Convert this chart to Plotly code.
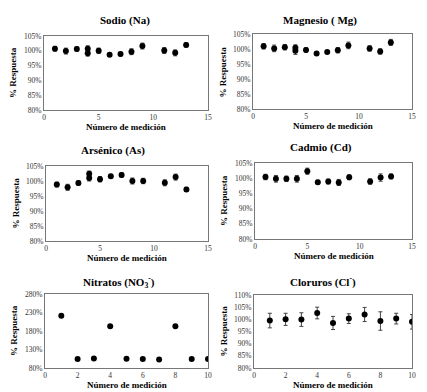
import plotly.graph_objects as go

# ---- data ----
na_x = [1, 2, 3, 4, 4, 5, 6, 7, 8, 9, 11, 12, 13]
na_y = [100.7, 99.9, 100.6, 100.7, 99.2, 100.0, 98.7, 98.9, 99.7, 101.6, 100.1, 99.3, 102.0]
na_e = [0.8, 1.0, 0.7, 1.0, 1.0, 0.9, 0.5, 0.6, 1.0, 1.0, 1.0, 1.0, 0.7]

mg_x = [1, 2, 3, 4, 4, 5, 6, 7, 8, 9, 11, 12, 13]
mg_y = [100.9, 100.2, 100.6, 100.4, 99.4, 99.7, 98.5, 99.0, 99.6, 101.2, 100.2, 99.2, 102.2]
mg_e = [0.9, 1.1, 0.9, 1.0, 1.2, 0.7, 0.4, 0.5, 0.9, 1.1, 0.9, 0.9, 1.0]

as_x = [1, 2, 3, 4, 4, 5, 6, 7, 8, 9, 11, 12, 13]
as_y = [98.8, 97.9, 99.3, 102.4, 101.0, 100.6, 101.6, 102.0, 100.0, 100.0, 99.4, 101.3, 97.2]
as_e = [0.8, 1.0, 0.7, 0.9, 1.0, 0.9, 0.6, 0.7, 1.0, 0.9, 1.0, 1.0, 0.7]

cd_x = [1, 2, 3, 4, 5, 6, 7, 8, 9, 11, 12, 13]
cd_y = [100.4, 99.8, 99.8, 99.8, 102.3, 98.7, 98.9, 98.6, 100.3, 98.9, 100.2, 100.6]
cd_e = [0.9, 1.1, 0.9, 1.1, 1.0, 0.6, 0.8, 1.0, 0.8, 0.9, 1.2, 0.8]

no3_x = [1, 2, 3, 4, 5, 6, 7, 8, 9, 10]
no3_y = [221, 104, 106, 193, 105, 104, 103, 193, 104, 104]

cl_x = [1, 2, 3, 4, 5, 6, 7, 8, 9, 10]
cl_y = [99.5, 100.0, 99.9, 102.6, 98.5, 100.3, 102.0, 99.3, 100.3, 99.0]
cl_e = [3.0, 2.5, 2.8, 2.4, 2.7, 2.0, 2.9, 3.8, 2.2, 3.0]

titles = ["Sodio (Na)", "Magnesio ( Mg)", "Arsénico (As)", "Cadmio (Cd)",
          "Nitratos (NO<sub>3</sub><sup>-</sup>)", "Cloruros (Cl<sup>-</sup>)"]
x_title = "Número de medición"
y_title = "% Respuesta"

# ---- layout geometry (window pixels; page body has an 8px margin) ----
OFF = 8
W, H = 427 - OFF, 392 - OFF
boxes = [  # left, right, top, bottom
    (44, 208, 36, 110),
    (253, 412, 34, 109),
    (46, 208, 166, 241),
    (255, 412, 163, 239),
    (45, 208, 294, 368),
    (254, 412, 295, 368),
]
title_pos = [(125, 20), (320, 20), (113, 151), (321, 148), (119, 282), (323, 281)]


def px(v):
    return (v - OFF) / W


def py(v):
    return 1 - (v - OFF) / H


series = [
    (na_x, na_y, na_e), (mg_x, mg_y, mg_e), (as_x, as_y, as_e),
    (cd_x, cd_y, cd_e), (no3_x, no3_y, None), (cl_x, cl_y, cl_e),
]
xranges = [[0, 15]] * 4 + [[0, 10], [0, 10]]
xdticks = [5] * 4 + [2, 2]
yranges = [[80, 105]] * 4 + [[80, 280], [80, 110]]
ydticks = [5] * 4 + [50, 5]

FONT = "Liberation Serif"
fig = go.Figure()
annotations = []
for i, ((x, y, e), (l, r, t, b)) in enumerate(zip(series, boxes)):
    n = "" if i == 0 else str(i + 1)
    tr = dict(x=x, y=[v / 100 for v in y], mode="markers",
              marker=dict(color="black", size=6),
              xaxis="x" + n, yaxis="y" + n, showlegend=False)
    if e is not None:
        tr["error_y"] = dict(type="data", array=[v / 100 for v in e],
                             color="#444444", thickness=1, width=2)
    fig.add_trace(go.Scatter(**tr))
    axstyle = dict(showline=True, linecolor="#777777", linewidth=1, mirror=True,
                   showgrid=False, zeroline=False, ticks="", automargin=False,
                   tickfont=dict(family=FONT, size=7.5, color="#333333"))
    fig.layout["xaxis" + n] = dict(domain=[px(l), px(r)], anchor="y" + n,
                                   range=xranges[i], dtick=xdticks[i], tick0=0, **axstyle)
    yr = yranges[i]
    fig.layout["yaxis" + n] = dict(domain=[py(b), py(t)], anchor="x" + n,
                                   range=[yr[0] / 100, yr[1] / 100], dtick=ydticks[i] / 100,
                                   tick0=yr[0] / 100, tickformat=".0%", **axstyle)
    tx, ty = title_pos[i]
    common = dict(xref="paper", yref="paper", showarrow=False,
                  xanchor="center", yanchor="middle")
    annotations.append(dict(text="<b>" + titles[i] + "</b>", x=px(tx), y=py(ty),
                            font=dict(family=FONT, size=11, color="black"), **common))
    annotations.append(dict(text="<b>" + x_title + "</b>", x=px((l + r) / 2),
                            y=py(b + 17),
                            font=dict(family=FONT, size=9, color="black"), **common))
    annotations.append(dict(text="<b>" + y_title + "</b>", x=px(l - 31),
                            y=py((t + b) / 2), textangle=-90,
                            font=dict(family=FONT, size=9, color="black"), **common))

fig.update_layout(width=W, height=H, margin=dict(l=0, r=0, t=0, b=0),
                  paper_bgcolor="white", plot_bgcolor="white",
                  annotations=annotations)
fig.write_html("out.html")
